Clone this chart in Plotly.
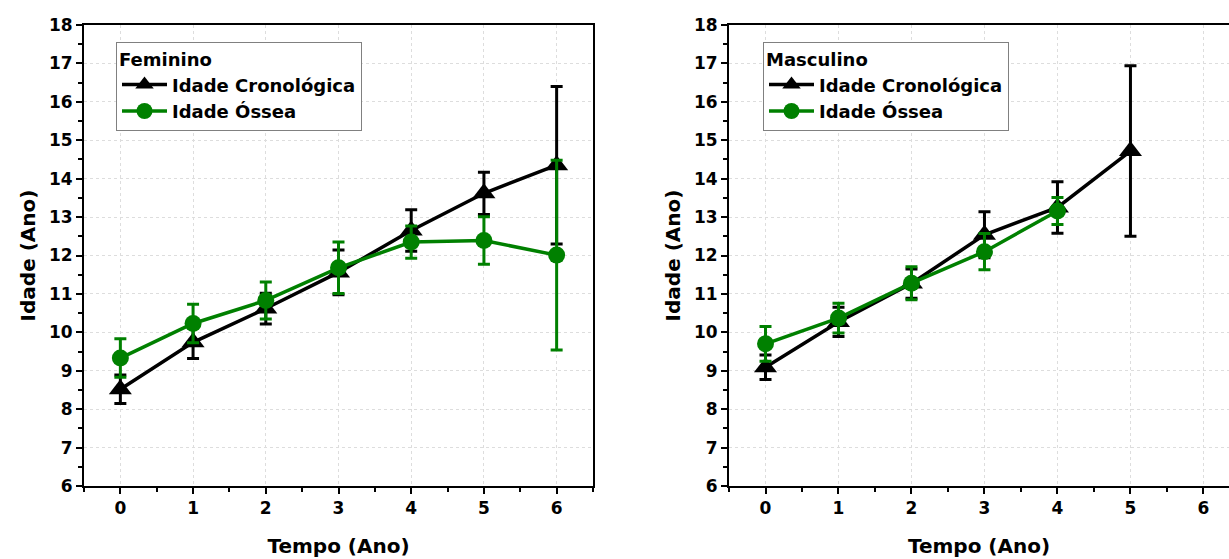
import plotly.graph_objects as go

# Feminino: mean age per follow-up year with standard deviation
fem_tempo = [0, 1, 2, 3, 4, 5, 6]
fem_cronologica = [8.52, 9.74, 10.62, 11.56, 12.65, 13.62, 14.35]
fem_cronologica_dp = [0.37, 0.42, 0.40, 0.58, 0.54, 0.55, 2.05]
fem_ossea = [9.33, 10.23, 10.83, 11.68, 12.35, 12.39, 12.01]
fem_ossea_dp = [0.50, 0.50, 0.48, 0.67, 0.42, 0.62, 2.47]

# Masculino
mas_tempo_cron = [0, 1, 2, 3, 4, 5]
mas_cronologica = [9.09, 10.27, 11.27, 12.54, 13.25, 14.72]
mas_cronologica_dp = [0.32, 0.38, 0.38, 0.60, 0.67, 2.22]
mas_tempo_oss = [0, 1, 2, 3, 4]
mas_ossea = [9.70, 10.37, 11.28, 12.10, 13.16]
mas_ossea_dp = [0.45, 0.39, 0.43, 0.47, 0.35]

x_ticks = [0, 1, 2, 3, 4, 5, 6]
y_ticks = list(range(6, 19))

BLACK = "#000000"
GREEN = "#008000"
FONT = "DejaVu Sans"

W, H = 1229, 559


def series(x, y, dp, name, color, symbol, size, xa, ya, legend):
    return go.Scatter(
        x=x, y=y, name=name, mode="lines+markers",
        xaxis=xa, yaxis=ya, legend=legend,
        line=dict(color=color, width=3.5),
        marker=dict(color=color, symbol=symbol, size=size),
        error_y=dict(type="data", array=dp, visible=True, color=color,
                     thickness=3, width=6),
    )


fig = go.Figure()
fig.add_trace(series(fem_tempo, fem_cronologica, fem_cronologica_dp,
                     "Idade Cronológica", BLACK, "triangle-up", 20, "x", "y", "legend"))
fig.add_trace(series(fem_tempo, fem_ossea, fem_ossea_dp,
                     "Idade Óssea", GREEN, "circle", 17, "x", "y", "legend"))
fig.add_trace(series(mas_tempo_cron, mas_cronologica, mas_cronologica_dp,
                     "Idade Cronológica", BLACK, "triangle-up", 20, "x2", "y2", "legend2"))
fig.add_trace(series(mas_tempo_oss, mas_ossea, mas_ossea_dp,
                     "Idade Óssea", GREEN, "circle", 17, "x2", "y2", "legend2"))

y_dom = [(H - 486) / H, (H - 25) / H]
tick_font = dict(family=FONT, size=17, color="black", weight="bold")
title_font = dict(family=FONT, size=20, color="black", weight="bold")


def x_axis(domain, rng, anchor, mirror):
    return dict(
        domain=domain, range=rng, anchor=anchor, automargin=False,
        tickmode="array", tickvals=x_ticks, ticktext=[str(v) for v in x_ticks],
        ticks="outside", ticklen=6, tickwidth=2, tickcolor="black",
        minor=dict(dtick=0.5, tick0=0, ticks="outside", ticklen=4,
                   tickwidth=1.5, tickcolor="black", showgrid=False),
        showline=True, linewidth=2, linecolor="black", mirror=mirror,
        showgrid=True, gridcolor="#dddddd", gridwidth=1, griddash="dot",
        zeroline=False, tickfont=tick_font,
        title=dict(text="Tempo (Ano)", font=title_font, standoff=22),
    )


def y_axis(anchor, mirror):
    return dict(
        domain=y_dom, range=[6, 18], anchor=anchor, automargin=False,
        tickmode="array", tickvals=y_ticks, ticktext=[str(v) for v in y_ticks],
        ticks="outside", ticklen=6, tickwidth=2, tickcolor="black",
        minor=dict(dtick=0.5, tick0=0, ticks="outside", ticklen=4,
                   tickwidth=1.5, tickcolor="black", showgrid=False),
        showline=True, linewidth=2, linecolor="black", mirror=mirror,
        showgrid=True, gridcolor="#dddddd", gridwidth=1, griddash="dot",
        zeroline=False, tickfont=tick_font,
        title=dict(text="Idade (Ano)", font=title_font, standoff=8),
    )


legend_font = dict(family=FONT, size=18, color="black", weight="bold")


def legend_box(title, left_px):
    return dict(
        title=dict(text=title, font=legend_font),
        font=legend_font,
        x=left_px / W, y=1 - 42 / H, xanchor="left", yanchor="top",
        bgcolor="white", bordercolor="#808080", borderwidth=1,
        itemwidth=45, tracegroupgap=0, itemsizing="trace",
    )


fig.update_layout(
    width=W, height=H,
    margin=dict(l=0, r=0, t=0, b=0),
    paper_bgcolor="white", plot_bgcolor="white",
    showlegend=True,
    xaxis=x_axis([84 / W, 593 / W], [-0.5, 6.5], "y", True),
    yaxis=y_axis("x", True),
    xaxis2=x_axis([729 / W, 1.0], [-0.5, 6.35], "y2", True),
    yaxis2=y_axis("x2", False),
    legend=legend_box("Feminino", 116),
    legend2=legend_box("Masculino", 763),
)

fig.write_html("out.html")
